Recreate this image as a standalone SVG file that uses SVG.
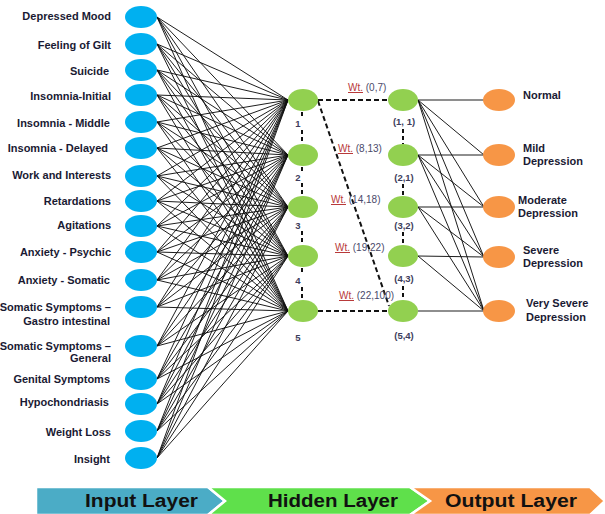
<svg xmlns="http://www.w3.org/2000/svg" width="605" height="514" viewBox="0 0 605 514">
<style>
.lbl{font-family:"Liberation Sans",Arial,sans-serif;font-weight:bold;font-size:11px;fill:#1a1a33}
.in{fill:#00B0F0}
.hid{fill:#92D050}
.out{fill:#F79646}
.w{stroke:#111;stroke-width:0.95;fill:none}
.dash{stroke:#111;stroke-width:2;stroke-dasharray:5 3;fill:none}
.vd{stroke:#111;stroke-width:2;stroke-dasharray:4 3;fill:none}
.num{font-family:"Liberation Sans",Arial,sans-serif;font-size:9.5px;font-weight:bold;fill:#3d3d5c;text-anchor:middle}
.wt{font-family:"Liberation Sans",Arial,sans-serif;font-size:10px;fill:#4a4a6a}
.wtr{fill:#b83a3a;text-decoration:underline}
.bar{font-family:"Liberation Sans",Arial,sans-serif;font-weight:bold;font-size:18px;fill:#111}
.chev{stroke:#fff;stroke-width:2.5}
</style>
<rect width="605" height="514" fill="#fff"/>
<g id="connectors">
<path class="w" d="M157 17L288 100M157 17L288 155M157 17L288 207M157 17L288 256M157 17L288 311"/>
<path class="w" d="M157 44L288 100M157 44L288 155M157 44L288 207M157 44L288 256M157 44L288 311"/>
<path class="w" d="M157 70L288 100M157 70L288 155M157 70L288 207M157 70L288 256M157 70L288 311"/>
<path class="w" d="M157 95L288 100M157 95L288 155M157 95L288 207M157 95L288 256M157 95L288 311"/>
<path class="w" d="M157 122L288 100M157 122L288 155M157 122L288 207M157 122L288 256M157 122L288 311"/>
<path class="w" d="M157 148L288 100M157 148L288 155M157 148L288 207M157 148L288 256M157 148L288 311"/>
<path class="w" d="M157 176L288 100M157 176L288 155M157 176L288 207M157 176L288 256M157 176L288 311"/>
<path class="w" d="M157 201L288 100M157 201L288 155M157 201L288 207M157 201L288 256M157 201L288 311"/>
<path class="w" d="M157 226L288 100M157 226L288 155M157 226L288 207M157 226L288 256M157 226L288 311"/>
<path class="w" d="M157 252L288 100M157 252L288 155M157 252L288 207M157 252L288 256M157 252L288 311"/>
<path class="w" d="M157 280L288 100M157 280L288 155M157 280L288 207M157 280L288 256M157 280L288 311"/>
<path class="w" d="M157 307L288 100M157 307L288 155M157 307L288 207M157 307L288 256M157 307L288 311"/>
<path class="w" d="M157 346L288 100M157 346L288 155M157 346L288 207M157 346L288 256M157 346L288 311"/>
<path class="w" d="M157 379L288 100M157 379L288 155M157 379L288 207M157 379L288 256M157 379L288 311"/>
<path class="w" d="M157 404L288 100M157 404L288 155M157 404L288 207M157 404L288 256M157 404L288 311"/>
<path class="w" d="M157 431L288 100M157 431L288 155M157 431L288 207M157 431L288 256M157 431L288 311"/>
<path class="w" d="M157 458L288 100M157 458L288 155M157 458L288 207M157 458L288 256M157 458L288 311"/>
<path class="w" d="M418 100L484 100M418 100L484 155M418 100L484 207M418 100L484 257M418 100L484 311"/>
<path class="w" d="M418 155L484 155M418 155L484 207M418 155L484 257M418 155L484 311"/>
<path class="w" d="M418 207L484 207M418 207L484 257M418 207L484 311"/>
<path class="w" d="M418 256L484 257M418 256L484 311"/>
<path class="w" d="M418 311L484 311"/>
<path class="dash" d="M318 100L388 100M318 311L388 311M318 101L389 306"/>
<path class="vd" d="M302 112L302 118M302 130L302 144M302 167L302 172M302 183L302 195M302 231L302 244M302 268L302 273M302 287L302 299"/>
<path class="vd" d="M403 129L403 144M403 184L403 196M403 232L403 244M403 286L403 299"/>
</g>
<g id="in1"><ellipse class="in" cx="141" cy="17" rx="16" ry="11"/><text class="lbl" x="111" y="20" text-anchor="end">Depressed Mood</text></g>
<g id="in2"><ellipse class="in" cx="141" cy="44" rx="16" ry="11"/><text class="lbl" x="111" y="49" text-anchor="end">Feeling of Gilt</text></g>
<g id="in3"><ellipse class="in" cx="141" cy="70" rx="16" ry="11"/><text class="lbl" x="109" y="75" text-anchor="end">Suicide</text></g>
<g id="in4"><ellipse class="in" cx="141" cy="95" rx="16" ry="11"/><text class="lbl" x="111" y="100" text-anchor="end">Insomnia-Initial</text></g>
<g id="in5"><ellipse class="in" cx="141" cy="122" rx="16" ry="11"/><text class="lbl" x="110" y="127" text-anchor="end">Insomnia - Middle</text></g>
<g id="in6"><ellipse class="in" cx="141" cy="148" rx="16" ry="11"/><text class="lbl" x="108" y="152" text-anchor="end">Insomnia - Delayed</text></g>
<g id="in7"><ellipse class="in" cx="141" cy="176" rx="16" ry="11"/><text class="lbl" x="111" y="179" text-anchor="end">Work and Interests</text></g>
<g id="in8"><ellipse class="in" cx="141" cy="201" rx="16" ry="11"/><text class="lbl" x="111" y="205" text-anchor="end">Retardations</text></g>
<g id="in9"><ellipse class="in" cx="141" cy="226" rx="16" ry="11"/><text class="lbl" x="111" y="229" text-anchor="end">Agitations</text></g>
<g id="in10"><ellipse class="in" cx="141" cy="252" rx="16" ry="11"/><text class="lbl" x="111" y="256" text-anchor="end">Anxiety - Psychic</text></g>
<g id="in11"><ellipse class="in" cx="141" cy="280" rx="16" ry="11"/><text class="lbl" x="110" y="284" text-anchor="end">Anxiety - Somatic</text></g>
<g id="in12"><ellipse class="in" cx="141" cy="307" rx="16" ry="11"/><text class="lbl" x="111" y="311" text-anchor="end">Somatic Symptoms –</text><text class="lbl" x="110" y="325" text-anchor="end">Gastro intestinal</text></g>
<g id="in13"><ellipse class="in" cx="141" cy="346" rx="16" ry="11"/><text class="lbl" x="111" y="350" text-anchor="end">Somatic Symptoms –</text><text class="lbl" x="111" y="362" text-anchor="end">General</text></g>
<g id="in14"><ellipse class="in" cx="141" cy="379" rx="16" ry="11"/><text class="lbl" x="110" y="383" text-anchor="end">Genital Symptoms</text></g>
<g id="in15"><ellipse class="in" cx="141" cy="404" rx="16" ry="11"/><text class="lbl" x="109" y="406" text-anchor="end">Hypochondriasis</text></g>
<g id="in16"><ellipse class="in" cx="141" cy="431" rx="16" ry="11"/><text class="lbl" x="111" y="436" text-anchor="end">Weight Loss</text></g>
<g id="in17"><ellipse class="in" cx="141" cy="458" rx="16" ry="11"/><text class="lbl" x="110" y="463" text-anchor="end">Insight</text></g>
<g id="h1"><ellipse class="hid" cx="303" cy="100" rx="15" ry="11"/><text class="num" x="298" y="127">1</text></g>
<g id="h2"><ellipse class="hid" cx="303" cy="155" rx="15" ry="11"/><text class="num" x="298" y="181">2</text></g>
<g id="h3"><ellipse class="hid" cx="303" cy="207" rx="15" ry="11"/><text class="num" x="298" y="229">3</text></g>
<g id="h4"><ellipse class="hid" cx="303" cy="256" rx="15" ry="11"/><text class="num" x="298" y="284">4</text></g>
<g id="h5"><ellipse class="hid" cx="303" cy="311" rx="15" ry="11"/><text class="num" x="298" y="341">5</text></g>
<g id="g1"><ellipse class="hid" cx="403" cy="100" rx="15" ry="11"/><text class="num" x="404" y="125">(1, 1)</text></g>
<g id="g2"><ellipse class="hid" cx="403" cy="155" rx="15" ry="11"/><text class="num" x="404" y="181">(2,1)</text></g>
<g id="g3"><ellipse class="hid" cx="403" cy="207" rx="15" ry="11"/><text class="num" x="404" y="229">(3,2)</text></g>
<g id="g4"><ellipse class="hid" cx="403" cy="256" rx="15" ry="11"/><text class="num" x="404" y="282">(4,3)</text></g>
<g id="g5"><ellipse class="hid" cx="403" cy="311" rx="15" ry="11"/><text class="num" x="404" y="339">(5,4)</text></g>
<g id="weights">
<text class="wt" x="348" y="91"><tspan class="wtr">Wt.</tspan> (0,7)</text>
<text class="wt" x="338" y="152"><tspan class="wtr">Wt.</tspan> (8,13)</text>
<text class="wt" x="331" y="203"><tspan class="wtr">Wt.</tspan> (14,18)</text>
<text class="wt" x="335" y="251"><tspan class="wtr">Wt.</tspan> (19,22)</text>
<text class="wt" x="339" y="299"><tspan class="wtr">Wt.</tspan> (22,100)</text>
</g>
<g id="o1"><ellipse class="out" cx="499" cy="100" rx="16" ry="11"/><text class="lbl" x="523" y="99">Normal</text></g>
<g id="o2"><ellipse class="out" cx="499" cy="155" rx="16" ry="11"/><text class="lbl" x="523" y="152">Mild</text><text class="lbl" x="523" y="165">Depression</text></g>
<g id="o3"><ellipse class="out" cx="499" cy="207" rx="16" ry="11"/><text class="lbl" x="518" y="204">Moderate</text><text class="lbl" x="518" y="217">Depression</text></g>
<g id="o4"><ellipse class="out" cx="499" cy="257" rx="16" ry="11"/><text class="lbl" x="523" y="254">Severe</text><text class="lbl" x="523" y="267">Depression</text></g>
<g id="o5"><ellipse class="out" cx="499" cy="311" rx="16" ry="11"/><text class="lbl" x="526" y="307">Very Severe</text><text class="lbl" x="526" y="321">Depression</text></g>
<g id="bar">
<polygon class="chev" fill="#4BACC6" points="36,487 208,487 225,501 208,515 36,515"/>
<polygon class="chev" fill="#5FE04B" points="208,487 410,487 430,501 410,515 208,515 225,501"/>
<polygon class="chev" fill="#F79646" points="410,487 590,487 605,501 590,515 410,515 430,501"/>
<text class="bar" x="85" y="507" textLength="113" lengthAdjust="spacingAndGlyphs">Input Layer</text>
<text class="bar" x="268" y="507" textLength="130" lengthAdjust="spacingAndGlyphs">Hidden Layer</text>
<text class="bar" x="445" y="507" textLength="132" lengthAdjust="spacingAndGlyphs">Output Layer</text>
</g>
</svg>
